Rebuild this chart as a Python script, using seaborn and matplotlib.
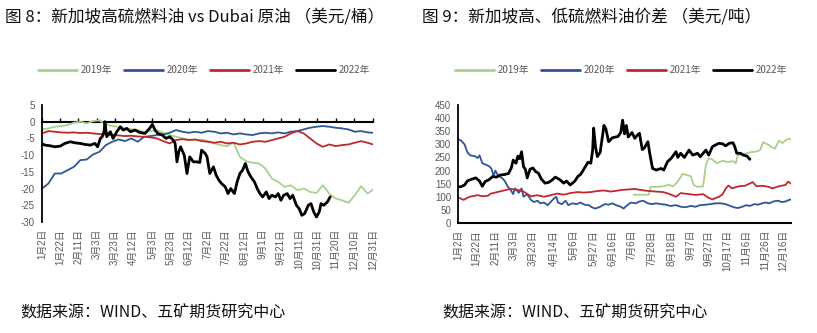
import matplotlib
matplotlib.use("Agg")
import matplotlib.pyplot as plt
import seaborn as sns
import pandas as pd
from matplotlib.lines import Line2D

# ---------------- data ----------------
years = ["2019年", "2020年", "2021年", "2022年"]
colors = ["#A9D18E", "#2F5597", "#C0282D", "#000000"]

# Left chart: HSFO vs Dubai (USD/bbl), weekly observations (day of year)
left_week_days = list(range(1, 359, 7)) + [364]
left_2019 = [-2.3, -2.0, -1.5, -1.3, -1.0, -0.3, 0.0, -0.5, 0.2, 0.4,
             -0.8, -1.3, -1.5, -2.0, -2.2, -2.5, -3.0, -2.8, -2.6, -3.3,
             -4.0, -4.5, -5.0, -5.3, -5.5, -5.3, -5.8, -6.5, -7.0, -7.3,
             -6.3, -10.5, -11.8, -12.3, -12.5, -14.0, -17.0, -18.0, -19.5, -19.0,
             -20.5, -20.0, -21.0, -21.3, -19.0, -21.5, -23.0, -23.5, -24.3, -22.0,
             -19.3, -21.5, -20.3]
left_2020 = [-20.0, -18.5, -15.5, -15.5, -14.5, -13.5, -11.5, -11.3, -9.8, -9.0,
             -7.0, -6.0, -5.3, -5.8, -5.0, -6.0, -4.5, -4.3, -4.0, -3.8,
             -3.3, -2.5, -3.0, -3.3, -3.0, -3.3, -2.8, -3.0, -3.5, -3.3,
             -3.8, -3.5, -3.8, -4.0, -3.5, -3.3, -3.5, -3.2, -3.5, -3.0,
             -2.8, -2.3, -1.8, -1.5, -1.3, -1.5, -1.8, -2.0, -2.3, -3.0,
             -2.8, -3.2, -3.3]
left_2021 = [-3.5, -2.8, -3.0, -3.2, -3.3, -3.2, -3.4, -3.3, -3.5, -3.7,
             -3.8, -4.0, -4.1, -4.3, -4.2, -4.4, -4.5, -4.7, -5.0, -5.8,
             -6.5, -5.5, -5.2, -5.5, -5.3, -5.8, -6.0, -6.3, -6.0, -6.5,
             -6.3, -6.8, -6.5, -6.0, -5.8, -6.0, -5.5, -5.0, -4.5, -3.5,
             -2.8, -3.5, -5.0, -6.5, -7.5, -6.8, -7.3, -7.0, -6.8, -6.3,
             -5.8, -6.3, -6.8]
left_2022_days = [1, 4, 10, 15, 21, 26, 32, 37, 43, 48, 54, 59, 62, 65, 67, 69, 70, 72, 76, 79,
                  83, 87, 90, 94, 98, 103, 108, 114, 119, 122, 125, 128, 133, 137, 141, 145, 147, 149, 151, 153,
                  157, 160, 163, 167, 171, 174, 176, 180, 182, 185, 189, 192, 195, 198, 202, 205, 208, 212, 215, 218,
                  221, 224, 227, 230, 234, 237, 240, 243, 247, 250, 253, 257, 260, 263, 266, 270, 273, 276, 280, 283,
                  286, 289, 293, 296, 299, 302, 305, 307, 310, 314, 317]
left_2022 = [-6.5, -7.0, -7.2, -7.5, -7.3, -6.5, -6.0, -6.3, -6.5, -6.8, -7.0, -6.5, -7.5, -5.0, -4.5, -3.0, 0.0, -4.5, -3.0, -5.0,
             -3.0, -1.5, -2.5, -2.0, -3.0, -2.5, -3.2, -3.5, -2.0, -0.8, -2.5, -3.5, -4.0, -5.0, -4.5, -5.5, -6.5, -12.0, -9.0, -7.5,
             -10.0, -15.5, -10.5, -12.0, -12.0, -12.2, -8.5, -9.5, -10.5, -15.5, -13.5, -16.0, -17.5, -18.5, -19.5, -21.5, -20.0, -21.5, -18.0, -15.5,
             -14.5, -12.5, -15.0, -16.5, -18.0, -20.0, -21.5, -22.5, -21.0, -23.0, -22.0, -22.5, -21.5, -23.5, -22.0, -21.5, -23.0, -22.0, -25.0, -26.0,
             -28.0, -27.5, -25.0, -24.5, -27.0, -28.5, -27.0, -24.5, -25.0, -24.0, -22.5]

left_tick_days = [1, 21, 41, 61, 81, 101, 122, 142, 162, 182, 202, 223, 243, 263, 283, 303, 323, 343, 364]
left_tick_labels = ["1月2日", "1月22日", "2月11日", "3月3日", "3月23日", "4月12日", "5月3日", "5月23日",
                    "6月12日", "7月2日", "7月22日", "8月12日", "9月1日", "9月21日", "10月11日", "10月31日",
                    "11月20日", "12月10日", "12月31日"]

# Right chart: Singapore HSFO/LSFO spread (USD/t)
right_2019_days = [189, 196, 205, 207, 214, 221, 226, 231, 236, 241, 246, 250, 253, 257, 263, 266, 269, 273,
                   278, 284, 289, 295, 298, 300, 306, 314, 319, 324, 327, 332, 337, 340, 344, 348, 351, 355, 357]
right_2019 = [108, 108, 108, 138, 138, 140, 146, 140, 158, 187, 183, 178, 145, 138, 140, 221, 247, 242,
              228, 238, 232, 236, 228, 258, 262, 270, 272, 278, 308, 300, 288, 284, 314, 305, 315, 322, 318]
right_2020_days = [1, 4, 8, 11, 14, 19, 22, 24, 27, 31, 35, 37, 39, 41, 44, 48, 51, 54, 57, 60,
                   62, 66, 69, 71, 75, 79, 82, 86, 89, 93, 97, 100, 104, 106, 108, 112, 116, 119, 123, 128,
                   132, 136, 141, 144, 148, 153, 158, 162, 166, 170, 175, 178, 182, 186, 191, 195, 199, 204, 208, 213,
                   218, 223, 228, 234, 239, 244, 250, 255, 260, 266, 271, 276, 282, 287, 292, 296, 300, 305, 309, 313,
                   318, 322, 326, 330, 334, 338, 343, 347, 351, 355, 357]
right_2020 = [320, 315, 300, 270, 258, 255, 248, 258, 228, 222, 215, 205, 180, 200, 180, 172, 160, 140, 128, 110,
              132, 115, 132, 100, 110, 88, 80, 85, 75, 78, 68, 80, 95, 100, 78, 72, 85, 68, 75, 72,
              78, 70, 68, 60, 55, 62, 72, 70, 75, 68, 62, 55, 68, 78, 75, 82, 85, 75, 72, 75,
              72, 70, 65, 68, 62, 60, 65, 62, 68, 70, 72, 75, 75, 72, 65, 60, 57, 62, 68, 65,
              72, 70, 75, 78, 75, 82, 85, 80, 82, 88, 90]
right_2021_days = [1, 7, 12, 16, 22, 27, 33, 36, 43, 50, 57, 65, 71, 79, 86, 93, 100, 107, 114, 121,
                   129, 135, 143, 150, 157, 164, 169, 176, 183, 190, 198, 205, 212, 220, 226, 234, 239, 248, 255, 263,
                   269, 273, 280, 284, 287, 290, 294, 301, 308, 316, 320, 326, 333, 337, 344, 351, 354, 357]
right_2021 = [98, 88, 98, 102, 106, 102, 104, 112, 118, 124, 130, 126, 120, 102, 106, 100, 106, 112, 108, 114,
              118, 116, 118, 122, 124, 120, 122, 126, 128, 130, 125, 122, 120, 118, 112, 100, 114, 110, 107, 110,
              96, 90, 100, 110, 130, 143, 132, 140, 142, 156, 140, 142, 138, 132, 140, 145, 158, 150]
right_2022_days = [1, 4, 8, 11, 14, 20, 24, 27, 30, 34, 38, 42, 46, 51, 55, 58, 60, 63, 65, 67,
                   69, 71, 73, 75, 78, 81, 84, 87, 90, 94, 98, 102, 105, 110, 114, 117, 121, 126, 129, 132,
                   135, 140, 143, 145, 146, 148, 150, 153, 156, 157, 159, 162, 166, 172, 175, 177, 179, 181, 183, 187,
                   190, 193, 195, 198, 200, 204, 206, 209, 213, 218, 221, 225, 229, 234, 236, 239, 243, 248, 252, 257,
                   260, 266, 269, 273, 276, 280, 284, 287, 291, 295, 297, 299, 303, 306, 310, 313]
right_2022 = [138, 138, 145, 160, 165, 172, 160, 140, 158, 165, 177, 175, 183, 185, 189, 210, 240, 228, 255, 245,
              272, 215, 205, 172, 205, 210, 196, 190, 168, 152, 155, 165, 175, 165, 152, 160, 145, 160, 177, 185,
              202, 232, 228, 280, 362, 290, 253, 270, 345, 372, 360, 310, 325, 330, 345, 392, 340, 372, 328, 345,
              323, 336, 342, 280, 285, 310, 265, 208, 202, 208, 202, 234, 247, 272, 250, 266, 250, 278, 259, 266,
              253, 278, 259, 291, 297, 304, 302, 294, 304, 306, 290, 266, 266, 259, 255, 243]

right_tick_days = [1, 21, 41, 61, 81, 103, 125, 146, 166, 186, 208, 229, 249, 269, 289, 309, 329, 349]
right_tick_labels = ["1月2日", "1月22日", "2月11日", "3月3日", "3月23日", "4月14日", "5月6日", "5月27日",
                     "6月16日", "7月6日", "7月28日", "8月18日", "9月7日", "9月27日", "10月17日", "11月6日",
                     "11月26日", "12月16日"]

# ---------------- style ----------------
sns.set_style("white")
plt.rcParams["font.family"] = ["Noto Sans CJK SC", "DejaVu Sans"]
TICK_FONT = ["Liberation Sans", "Noto Sans CJK SC", "DejaVu Sans"]
GRAY = "#595959"

W, H = 817, 333
fig = plt.figure(figsize=(W / 100, H / 100), dpi=100)
fig.patch.set_facecolor("white")

ax1 = fig.add_axes([42 / W, 1 - 222 / H, (373 - 42) / W, (222 - 105) / H])
ax2 = fig.add_axes([458 / W, 1 - 223 / H, (791 - 458) / W, (223 - 105) / H])

widths = [1.3, 1.3, 1.3, 2.0]


def draw(ax, series):
    for (days, vals), col, lw in zip(series, colors, widths):
        df = pd.DataFrame({"day": days, "value": vals})
        sns.lineplot(data=df, x="day", y="value", ax=ax, color=col, lw=lw,
                     estimator=None, legend=False, sort=False)


draw(ax1, [(left_week_days, left_2019), (left_week_days, left_2020),
           (left_week_days, left_2021), (left_2022_days, left_2022)])
draw(ax2, [(right_2019_days, right_2019), (right_2020_days, right_2020),
           (right_2021_days, right_2021), (right_2022_days, right_2022)])

for ax in (ax1, ax2):
    ax.set_xlabel("")
    ax.set_ylabel("")
    ax.set_facecolor("white")
    ax.grid(False)
    for s in ("top", "right"):
        ax.spines[s].set_visible(False)
    ax.spines["left"].set_color("black")
    ax.spines["left"].set_linewidth(1.3)
    ax.tick_params(axis="y", direction="out", length=3, width=1, color="black",
                   labelsize=7, labelcolor=GRAY, pad=2)

# left chart axes
ax1.set_xlim(1, 364)
ax1.set_ylim(-30, 5)
ax1.set_yticks(range(-30, 6, 5))
ax1.set_yticklabels([str(v) for v in range(-30, 6, 5)], family=TICK_FONT)
ax1.spines["bottom"].set_visible(False)
ax1.set_xticks(left_tick_days)
ax1.set_xticklabels(left_tick_labels, rotation=90, family=TICK_FONT)
ax1.tick_params(axis="x", length=0, labelsize=7, labelcolor=GRAY, pad=5)
zero_axis = ax1.secondary_xaxis(30 / 35)
zero_axis.set_xticks(left_tick_days)
zero_axis.tick_params(axis="x", direction="out", length=3, width=1, color="black",
                      labeltop=False, labelbottom=False)
for s in zero_axis.spines.values():
    s.set_linewidth(1.5)
    s.set_color("black")

# right chart axes
ax2.set_xlim(1, 357)
ax2.set_ylim(0, 450)
ax2.set_yticks(range(0, 451, 50))
ax2.set_yticklabels([str(v) for v in range(0, 451, 50)], family=TICK_FONT)
ax2.spines["bottom"].set_color("black")
ax2.spines["bottom"].set_linewidth(1.5)
ax2.set_xticks(right_tick_days)
ax2.set_xticklabels(right_tick_labels, rotation=90, family=TICK_FONT)
ax2.tick_params(axis="x", direction="out", length=3, width=1, color="black",
                labelsize=7, labelcolor=GRAY, pad=2)

# legends
handles = [Line2D([0], [0], color=c, lw=2.0) for c in colors]
for cx in (204 / W, 621 / W):
    leg = fig.legend(handles, years, loc="center", bbox_to_anchor=(cx, 1 - 70 / H),
                     ncol=4, frameon=False, fontsize=7, handlelength=4.0,
                     handletextpad=0.4, columnspacing=1.2)
    for t in leg.get_texts():
        t.set_color(GRAY)

# titles and source
fig.text(5 / W, 1 - 17 / H, "图 8：新加坡高硫燃料油 vs Dubai 原油 （美元/桶）",
         ha="left", va="center", fontsize=12, color="#111111")
fig.text(422 / W, 1 - 17 / H, "图 9：新加坡高、低硫燃料油价差 （美元/吨）",
         ha="left", va="center", fontsize=12, color="#111111")
fig.text(20 / W, 1 - 313 / H, "数据来源：WIND、五矿期货研究中心",
         ha="left", va="center", fontsize=11.5, color="#111111")
fig.text(442 / W, 1 - 313 / H, "数据来源：WIND、五矿期货研究中心",
         ha="left", va="center", fontsize=11.5, color="#111111")

fig.savefig("out.png", dpi=100, facecolor="white")
